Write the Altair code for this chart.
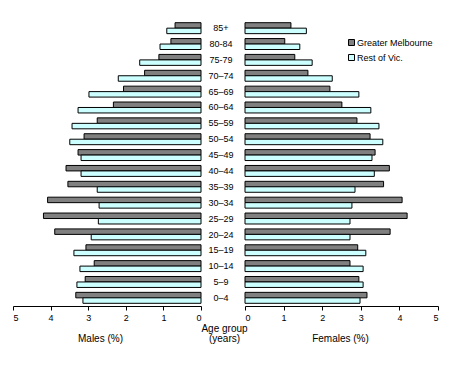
import altair as alt
import pandas as pd

ages = ["85+", "80-84", "75-79", "70–74", "65–69", "60–64", "55–59", "50–54", "45–49",
        "40–44", "35–39", "30–34", "25–29", "20–24", "15–19", "10–14", "5–9", "0–4"]
series = ["Greater Melbourne", "Rest of Vic."]

males_gm = [0.69, 0.80, 1.12, 1.50, 2.06, 2.33, 2.76, 3.11, 3.27, 3.59, 3.54, 4.08, 4.19, 3.89, 3.06, 2.84, 3.08, 3.33]
males_rv = [0.91, 1.09, 1.63, 2.20, 2.98, 3.27, 3.43, 3.49, 3.19, 3.19, 2.76, 2.71, 2.73, 2.92, 3.38, 3.22, 3.30, 3.14]
females_gm = [1.19, 1.03, 1.29, 1.63, 2.20, 2.51, 2.90, 3.24, 3.37, 3.74, 3.59, 4.07, 4.20, 3.76, 2.92, 2.72, 2.95, 3.16]
females_rv = [1.59, 1.42, 1.74, 2.26, 2.95, 3.26, 3.47, 3.57, 3.29, 3.35, 2.85, 2.77, 2.72, 2.72, 3.13, 3.06, 3.06, 2.98]

rows = []
for i, a in enumerate(ages):
    rows.append({"age": a, "series": series[0], "sex": "Males", "value": males_gm[i]})
    rows.append({"age": a, "series": series[1], "sex": "Males", "value": males_rv[i]})
    rows.append({"age": a, "series": series[0], "sex": "Females", "value": females_gm[i]})
    rows.append({"age": a, "series": series[1], "sex": "Females", "value": females_rv[i]})
df = pd.DataFrame(rows)
labels_df = pd.DataFrame({"age": ages})

FONT = "Liberation Sans"
H = 286
yscale = alt.Scale(paddingInner=0.31, paddingOuter=0.17)
cscale = alt.Scale(domain=series, range=["#808080", "#ccffff"])


def axis(title, title_x):
    return alt.Axis(values=[0, 1, 2, 3, 4, 5], format="d", grid=False, domainColor="black",
                    tickColor="black", tickSize=4, labelFont=FONT, labelFontSize=9,
                    labelColor="black", labelPadding=3, title=title, titleFont=FONT,
                    titleFontSize=10, titleFontWeight="normal", titleColor="black",
                    titleX=title_x, titleY=35, titleBaseline="alphabetic", titleAlign="center")


left = alt.Chart(df[df.sex == "Males"]).mark_bar(stroke="black", strokeWidth=1).encode(
    x=alt.X("value:Q", scale=alt.Scale(domain=[0, 5], reverse=True), axis=axis("Males (%)", 87)),
    y=alt.Y("age:N", sort=ages, axis=None, scale=yscale),
    yOffset=alt.YOffset("series:N", sort=series),
    color=alt.Color("series:N", scale=cscale, legend=None),
).properties(width=188, height=H)

mid_labels = alt.Chart(labels_df).mark_text(font=FONT, fontSize=9, color="black", align="center",
                                            baseline="middle").encode(
    y=alt.Y("age:N", sort=ages, axis=None, scale=yscale),
    x=alt.value(20),
    text="age:N",
)
mid_title = alt.Chart(pd.DataFrame({"t": ["Age group"]})).mark_text(
    font=FONT, fontSize=10, color="black", align="center", baseline="alphabetic", lineHeight=10,
    text=["Age group", "(years)"]).encode(x=alt.value(23.5), y=alt.value(312))
middle = alt.layer(mid_labels, mid_title).properties(width=44, height=H)

right = alt.Chart(df[df.sex == "Females"]).mark_bar(stroke="black", strokeWidth=1).encode(
    x=alt.X("value:Q", scale=alt.Scale(domain=[0, 5]), axis=axis("Females (%)", 95)),
    y=alt.Y("age:N", sort=ages, axis=None, scale=yscale),
    yOffset=alt.YOffset("series:N", sort=series),
    color=alt.Color("series:N", scale=cscale,
                    legend=alt.Legend(title=None, orient="none", legendX=102, legendY=18,
                                      symbolType="square", symbolSize=36, symbolStrokeColor="black",
                                      symbolStrokeWidth=1, labelFont=FONT, labelFontSize=9,
                                      labelColor="black", labelOffset=1, rowPadding=4)),
).properties(width=193, height=H)

chart = alt.hconcat(left, middle, right, spacing=0, bounds="flush").resolve_legend(
    color="independent"
).properties(
    padding={"left": 4, "top": 12, "right": 5, "bottom": 5}
).configure_view(stroke=None)

chart.save("out.html", embed_options={"renderer": "svg", "actions": False})
